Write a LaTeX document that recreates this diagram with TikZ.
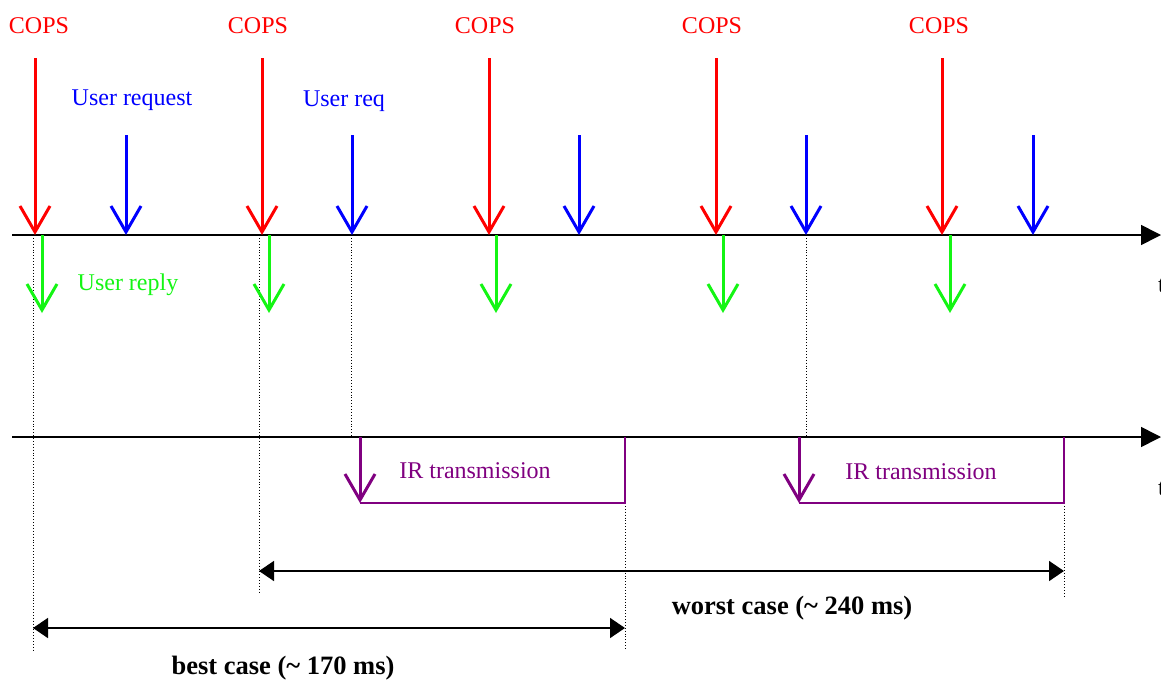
\documentclass[tikz,border=0pt]{standalone}
\usepackage{fontspec}
\setmainfont{Liberation Serif}
\usetikzlibrary{arrows.meta}
\definecolor{copsred}{RGB}{255,0,0}
\definecolor{reqblue}{RGB}{0,0,255}
\definecolor{replygreen}{RGB}{20,245,20}
\definecolor{irpurple}{RGB}{128,0,128}
\begin{document}
\begin{tikzpicture}[x=1pt,y=-1pt,
  evt/.style={line width=3pt,-{Straight Barb[length=26pt,width=30pt]}},
  axis/.style={line width=1.6pt,-{Triangle[length=20pt,width=20pt]}},
  guide/.style={dotted,line width=0.9pt},
  span/.style={line width=1.6pt,{Triangle[length=15pt,width=20pt]}-{Triangle[length=15pt,width=20pt]}},
  bracket/.style={irpurple,line width=1.5pt},
  lbl/.style={font=\fontsize{24}{28}\selectfont,inner sep=0pt},
  bold/.style={lbl,font=\fontsize{26.5}{30}\selectfont\bfseries}]
\useasboundingbox (0,0) rectangle (1161,680);

% time axes
\coordinate (a1s) at (12,235);  \coordinate (a1e) at (1161,235);
\coordinate (a2s) at (12,437);  \coordinate (a2e) at (1161,437);

% dotted guides
\coordinate (g1a) at (33,235);   \coordinate (g1b) at (33,650);
\coordinate (g2a) at (259,235);  \coordinate (g2b) at (259,592);
\coordinate (g3a) at (351,235);  \coordinate (g3b) at (351,437);
\coordinate (g4a) at (806,235);  \coordinate (g4b) at (806,437);
\coordinate (g5a) at (625,503);  \coordinate (g5b) at (625,650);
\coordinate (g6a) at (1064,503); \coordinate (g6b) at (1064,597);
\foreach \i in {1,...,6} \draw[guide] (g\i a) -- (g\i b);

\draw[axis] (a1s) -- (a1e);
\draw[axis] (a2s) -- (a2e);
\node[lbl,anchor=west] (t1) at (1158,286) {t};
\node[lbl,anchor=west] (t2) at (1158,489) {t};

% COPS polls, user requests and replies
\foreach \i/\r/\b/\g/\c in {1/35/126/42/39, 2/262/352/269/258, 3/489/579/496/485, 4/716/806/723/712, 5/942/1033/950/939} {
  \node[lbl,text=copsred] (cops\i) at (\c,26) {COPS};
  \coordinate (rt\i) at (\r,58);  \coordinate (rb\i) at (\r,235);
  \coordinate (bt\i) at (\b,135); \coordinate (bb\i) at (\b,235);
  \coordinate (gt\i) at (\g,235); \coordinate (gb\i) at (\g,313);
  \draw[evt,copsred] (rt\i) -- (rb\i);
  \draw[evt,reqblue] (bt\i) -- (bb\i);
  \draw[evt,replygreen] (gt\i) -- (gb\i);
}
\node[lbl,text=reqblue] (req1) at (132,100) {User request};
\node[lbl,text=reqblue] (req2) at (344,101) {User req};
\node[lbl,text=replygreen] (reply) at (128,285) {User reply};

% IR transmissions
\coordinate (ir1t) at (360,437); \coordinate (ir1b) at (360,503);
\coordinate (ir1e) at (625,503); \coordinate (ir1u) at (625,437);
\coordinate (ir2t) at (799,437); \coordinate (ir2b) at (799,503);
\coordinate (ir2e) at (1064,503); \coordinate (ir2u) at (1064,437);
\draw[bracket] (ir1b) -- (ir1e) -- (ir1u);
\draw[bracket] (ir2b) -- (ir2e) -- (ir2u);
\draw[evt,irpurple] (ir1t) -- (ir1b);
\draw[evt,irpurple] (ir2t) -- (ir2b);
\node[lbl,text=irpurple] (irl1) at (475,471) {IR transmission};
\node[lbl,text=irpurple] (irl2) at (921,472) {IR transmission};

% latency spans
\coordinate (ws) at (259,571); \coordinate (we) at (1064,571);
\coordinate (bs) at (33,628);  \coordinate (be) at (625,628);
\draw[span] (ws) -- (we);
\draw[span] (bs) -- (be);
\node[bold] (worst) at (792,608) {worst case (\textasciitilde{} 240 ms)};
\node[bold] (best) at (283,668) {best case (\textasciitilde{} 170 ms)};
\end{tikzpicture}
\end{document}
